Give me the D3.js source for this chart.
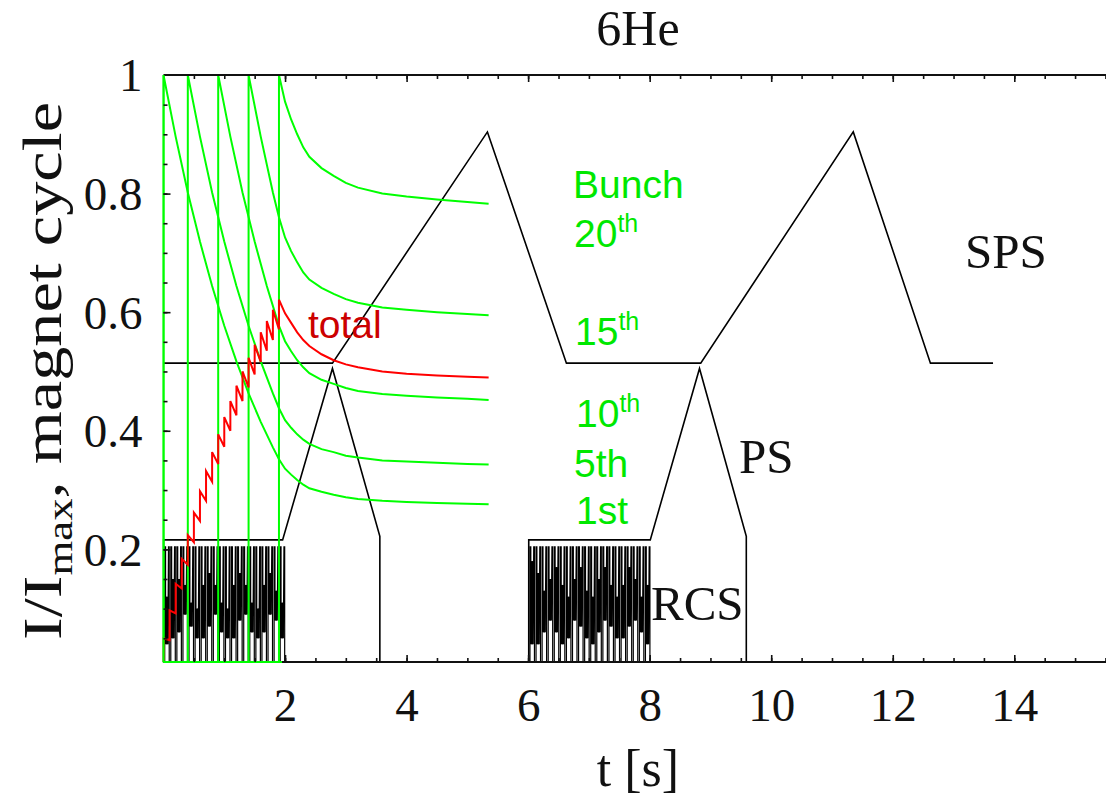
<!DOCTYPE html>
<html><head><meta charset="utf-8">
<script src="https://cdn.jsdelivr.net/npm/d3@7"></script>
<style>body{margin:0;background:#fff} svg{display:block}</style>
</head><body>
<svg id="c" width="1106" height="802"></svg>
<script>
// ---------- data ----------
const xTickValues = [2, 4, 6, 8, 10, 12, 14];
const xTickLabels = ["2", "4", "6", "8", "10", "12", "14"];
const yTickValues = [0.2, 0.4, 0.6, 0.8, 1];
const yTickLabels = ["0.2", "0.4", "0.6", "0.8", "1"];

// SPS magnet cycle
const spsT = [0, 2.78, 5.33, 6.63, 8.84, 11.35, 12.62, 13.65];
const spsV = [0.514, 0.514, 0.904, 0.514, 0.514, 0.904, 0.514, 0.514];
// PS magnet cycles
const ps1T = [0, 0, 1.96, 2.78, 3.56, 3.56];
const ps1V = [0, 0.216, 0.216, 0.505, 0.222, 0];
const ps2T = [6.01, 6.01, 8.01, 8.82, 9.59, 9.59];
const ps2V = [0, 0.216, 0.216, 0.505, 0.222, 0];
// RCS cycles (start time of each 0.1 s cycle) and the blob range of each cycle
const rcs1Starts = [0.02,0.12,0.22,0.32,0.42,0.52,0.62,0.72,0.82,0.92,1.02,1.12,1.22,1.32,1.42,1.52,1.62,1.72,1.82,1.92];
const rcs1Lo = [0.04,0.05,0.06,0.09,0.07,0.05,0.05,0.07,0.09,0.06,0.05,0.05,0.08,0.09,0.06,0.05,0.06,0.09,0.08,0.05];
const rcs1Hi = [0.12,0.15,0.15,0.14,0.11,0.10,0.14,0.16,0.14,0.11,0.10,0.14,0.16,0.14,0.11,0.10,0.14,0.16,0.13,0.11];
const rcs2Starts = [6.03,6.13,6.23,6.33,6.43,6.53,6.63,6.73,6.83,6.93,7.03,7.13,7.23,7.33,7.43,7.53,7.63,7.73,7.83,7.93];
const rcs2Lo = [0.04,0.04,0.06,0.08,0.06,0.04,0.05,0.08,0.07,0.05,0.04,0.06,0.08,0.07,0.05,0.05,0.07,0.08,0.06,0.04];
const rcs2Hi = [0.18,0.16,0.13,0.15,0.17,0.14,0.12,0.15,0.17,0.13,0.12,0.15,0.17,0.14,0.12,0.14,0.17,0.15,0.12,0.14];

// Bunch intensities (green)
const b1T  = [0, 0, 0.2, 0.4, 0.6, 0.8, 1.0, 1.2, 1.4, 1.6, 1.8, 1.9, 2.0, 2.1, 2.2, 2.3, 2.4, 2.6, 2.8, 3.0, 3.2, 3.6, 4.0, 4.5, 5.0, 5.35];
const b1V  = [0.01, 1.0, 0.896, 0.802, 0.719, 0.644, 0.577, 0.517, 0.463, 0.415, 0.372, 0.352, 0.336, 0.326, 0.317, 0.309, 0.303, 0.297, 0.292, 0.288, 0.285, 0.282, 0.280, 0.278, 0.277, 0.276];
const b5T  = [0, 0.4, 0.4, 0.6, 0.8, 1.0, 1.2, 1.4, 1.6, 1.8, 1.9, 2.0, 2.1, 2.2, 2.3, 2.4, 2.6, 2.8, 3.0, 3.2, 3.6, 4.0, 4.5, 5.0, 5.35];
const b5V  = [0.01, 0.01, 1.0, 0.896, 0.802, 0.719, 0.644, 0.577, 0.517, 0.463, 0.438, 0.418, 0.405, 0.394, 0.385, 0.378, 0.369, 0.364, 0.358, 0.355, 0.350, 0.348, 0.346, 0.344, 0.343];
const b10T = [0, 0.9, 0.9, 1.1, 1.3, 1.5, 1.7, 1.9, 2.0, 2.1, 2.2, 2.3, 2.4, 2.6, 2.8, 3.0, 3.2, 3.6, 4.0, 4.5, 5.0, 5.35];
const b10V = [0.01, 0.01, 1.0, 0.896, 0.802, 0.719, 0.644, 0.577, 0.551, 0.534, 0.519, 0.507, 0.497, 0.486, 0.479, 0.472, 0.467, 0.462, 0.459, 0.456, 0.454, 0.452];
const b15T = [0, 1.4, 1.4, 1.6, 1.8, 1.9, 2.0, 2.1, 2.2, 2.3, 2.4, 2.6, 2.8, 3.0, 3.2, 3.6, 4.0, 4.5, 5.0, 5.35];
const b15V = [0.01, 0.01, 1.0, 0.896, 0.802, 0.760, 0.726, 0.703, 0.684, 0.667, 0.655, 0.641, 0.631, 0.622, 0.616, 0.608, 0.604, 0.600, 0.597, 0.595];
const b20T = [0, 1.9, 1.9, 2.0, 2.1, 2.2, 2.3, 2.4, 2.6, 2.8, 3.0, 3.2, 3.6, 4.0, 4.5, 5.0, 5.35];
const b20V = [0.01, 0.01, 1.0, 0.955, 0.925, 0.900, 0.878, 0.862, 0.843, 0.830, 0.818, 0.810, 0.800, 0.795, 0.790, 0.786, 0.783];

// Total (red)
const totT = [0,0, 0.1,0.1, 0.2,0.2, 0.3,0.3, 0.4,0.4, 0.5,0.5, 0.6,0.6, 0.7,0.7, 0.8,0.8, 0.9,0.9, 1.0,1.0, 1.1,1.1, 1.2,1.2, 1.3,1.3, 1.4,1.4, 1.5,1.5, 1.6,1.6, 1.7,1.7, 1.8,1.8, 1.9,1.9,
              2.0, 2.1, 2.2, 2.3, 2.4, 2.6, 2.8, 3.0, 3.2, 3.6, 4.0, 4.5, 5.0, 5.35];
const totV = [0.01,0.050, 0.047,0.097, 0.092,0.142, 0.134,0.184, 0.174,0.224, 0.212,0.262, 0.248,0.298, 0.282,0.332, 0.314,0.364, 0.344,0.394,
              0.373,0.423, 0.400,0.450, 0.426,0.476, 0.450,0.500, 0.473,0.523, 0.495,0.545, 0.516,0.566, 0.535,0.585, 0.553,0.604, 0.571,0.621,
              0.598, 0.582, 0.566, 0.553, 0.543, 0.529, 0.519, 0.512, 0.507, 0.500, 0.496, 0.493, 0.491, 0.490];

// ---------- drawing ----------
const svg = d3.select("#c");
const x = d3.scaleLinear().domain([0, 15.55]).range([163.5, 1108.5]);
const y = d3.scaleLinear().domain([0.01, 1.0]).range([662, 75]);
const zip = (a, b) => a.map((t, i) => [t, b[i]]);
const line = d3.line().x(d => x(d[0])).y(d => y(d[1]));
const SERIF = "'Liberation Serif','Times New Roman',serif";
const SANS = "'Liberation Sans',Arial,sans-serif";
const GREEN = "#00ff00";

svg.append("defs").append("clipPath").attr("id", "plot")
  .append("rect").attr("x", x(0) - 1).attr("y", y(1.0) - 1)
  .attr("width", x(15.55) - x(0) + 2).attr("height", y(0.01) - y(1.0) + 2);

const g = svg.append("g").attr("clip-path", "url(#plot)");

// RCS cycles: a narrow full-height pulse followed by a dense blob
function rcsCycles(starts, lo, hi) {
  starts.forEach((s, i) => {
    const pts = [[s, 0], [s, 0.204], [s + 0.014, 0.204], [s + 0.014, lo[i]],
                 [s + 0.026, hi[i]], [s + 0.034, lo[i]], [s + 0.044, hi[i]], [s + 0.052, lo[i]],
                 [s + 0.062, 0.204], [s + 0.074, 0.204], [s + 0.074, 0]];
    g.append("path").attr("d", line(pts))
      .attr("fill", "none").attr("stroke", "#000").attr("stroke-width", 1.2);
    g.append("rect").attr("x", x(s + 0.02)).attr("width", x(s + 0.05) - x(s + 0.02))
      .attr("y", y(hi[i])).attr("height", y(lo[i]) - y(hi[i])).attr("fill", "#000");
  });
}
rcsCycles(rcs1Starts, rcs1Lo, rcs1Hi);
rcsCycles(rcs2Starts, rcs2Lo, rcs2Hi);

// PS and SPS
[[ps1T, ps1V], [ps2T, ps2V], [spsT, spsV]].forEach(([t, v]) => {
  g.append("path").attr("d", line(zip(t, v))).attr("fill", "none")
    .attr("stroke", "#000").attr("stroke-width", 1.6);
});

// Green bunches
[[b1T, b1V], [b5T, b5V], [b10T, b10V], [b15T, b15V], [b20T, b20V]].forEach(([t, v]) => {
  g.append("path").attr("d", line(zip(t, v))).attr("fill", "none")
    .attr("stroke", GREEN).attr("stroke-width", 2);
});

// Red total
g.append("path").attr("d", line(zip(totT, totV))).attr("fill", "none")
  .attr("stroke", "#ff0000").attr("stroke-width", 2);

// Frame
const frame = svg.append("g").attr("stroke", "#111").attr("stroke-width", 2).attr("fill", "none");
frame.append("path").attr("d", line([[0, 1.0], [15.55, 1.0]]));
frame.append("path").attr("d", line([[0, 1.0], [0, 0.01]])).attr("stroke", GREEN);
frame.append("path").attr("d", line([[1.95, 0.01], [15.55, 0.01]]));
frame.append("path").attr("d", line([[0, 0.01], [1.95, 0.01]])).attr("stroke", GREEN);

// Minor/major ticks (inside)
const yMinor = d3.range(1, 20).map(i => i * 0.05);
const xMinor = d3.range(1, 32).map(i => i * 0.5);
const tickG = svg.append("g");
tickG.append("g").attr("transform", `translate(${x(0)},0)`)
  .call(d3.axisLeft(y).tickValues(yMinor).tickSize(-4).tickFormat(""))
  .call(a => a.select(".domain").remove());
tickG.append("g").attr("transform", `translate(${x(0)},0)`)
  .call(d3.axisLeft(y).tickValues([0.2, 0.4, 0.6, 0.8]).tickSize(-7).tickFormat(""))
  .call(a => a.select(".domain").remove());
tickG.append("g").attr("transform", `translate(0,${y(1.0)})`)
  .call(d3.axisTop(x).tickValues(xMinor).tickSize(-4).tickFormat(""))
  .call(a => a.select(".domain").remove());
tickG.append("g").attr("transform", `translate(0,${y(1.0)})`)
  .call(d3.axisTop(x).tickValues(xTickValues).tickSize(-7).tickFormat(""))
  .call(a => a.select(".domain").remove());
tickG.append("g").attr("transform", `translate(0,${y(0.01)})`)
  .call(d3.axisBottom(x).tickValues(xMinor).tickSize(-4).tickFormat(""))
  .call(a => a.select(".domain").remove());
tickG.append("g").attr("transform", `translate(0,${y(0.01)})`)
  .call(d3.axisBottom(x).tickValues(xTickValues).tickSize(-7).tickFormat(""))
  .call(a => a.select(".domain").remove());
tickG.selectAll("line").attr("stroke", "#111").attr("stroke-width", 1.6);

// Tick labels
const yl = svg.append("g").attr("transform", `translate(${x(0)},0)`)
  .call(d3.axisLeft(y).tickValues(yTickValues).tickSize(0).tickPadding(21)
    .tickFormat((d, i) => yTickLabels[i]));
yl.select(".domain").remove();
yl.selectAll("text").attr("font-family", SERIF).attr("font-size", 47).attr("fill", "#111").attr("dy", "0.34em");

const xl = svg.append("g").attr("transform", `translate(0,${y(0.01)})`)
  .call(d3.axisBottom(x).tickValues(xTickValues).tickSize(0).tickPadding(26)
    .tickFormat((d, i) => xTickLabels[i]));
xl.select(".domain").remove();
xl.selectAll("text").attr("font-family", SERIF).attr("font-size", 47).attr("fill", "#111");

// Titles
svg.append("text").attr("x", 638).attr("y", 45).attr("text-anchor", "middle")
  .attr("font-family", SERIF).attr("font-size", 50).attr("fill", "#111").text("6He");
svg.append("text").attr("x", 638).attr("y", 786).attr("text-anchor", "middle")
  .attr("font-family", SERIF).attr("font-size", 52).attr("fill", "#111").text("t [s]");

const yt = svg.append("text").attr("transform", "translate(61,371) rotate(-90)")
  .attr("text-anchor", "middle").attr("font-family", SERIF).attr("font-size", 55).attr("fill", "#111")
  .attr("textLength", 538).attr("lengthAdjust", "spacingAndGlyphs");
yt.append("tspan").text("I/I");
yt.append("tspan").attr("font-size", 36).attr("dy", 11).text("max");
yt.append("tspan").attr("dy", -11).text(", magnet cycle");

// Machine labels
const lab = (tx, ty, s) => svg.append("text").attr("x", tx).attr("y", ty)
  .attr("font-family", SERIF).attr("font-size", 49).attr("fill", "#111").text(s);
lab(965, 268, "SPS");
lab(739, 473, "PS");
lab(651, 620, "RCS");

// Green labels
const GT = "#00e800";
const gl = (tx, ty, main, sup, supRaised) => {
  const t = svg.append("text").attr("x", tx).attr("y", ty)
    .attr("font-family", SANS).attr("font-size", 39).attr("fill", GT);
  t.append("tspan").text(main);
  if (sup) {
    if (supRaised) t.append("tspan").attr("font-size", 25).attr("dy", -15).text(sup);
    else t.append("tspan").text(sup);
  }
};
gl(573, 198, "Bunch");
gl(574, 247, "20", "th", true);
gl(575, 345, "15", "th", true);
gl(576, 427, "10", "th", true);
gl(574, 477, "5", "th", false);
gl(576, 524, "1", "st", false);

svg.append("text").attr("x", 308).attr("y", 338).attr("font-family", SANS)
  .attr("font-size", 39).attr("fill", "#cc0000").text("total");
</script>
</body></html>
